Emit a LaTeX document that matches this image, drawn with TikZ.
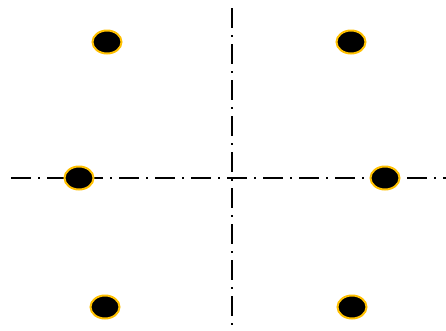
\documentclass[tikz,border=0pt]{standalone}
\usetikzlibrary{shapes.geometric}
\begin{document}
\begin{tikzpicture}[x=1pt,y=-1pt,
  axis/.style={line width=2.5pt,dash pattern=on 20pt off 7pt on 2pt off 7pt},
  dotmark/.style={ellipse,draw={rgb,255:red,255;green,192;blue,0},fill=black,line width=2pt,minimum width=29pt,minimum height=23pt,inner sep=0pt}]
\useasboundingbox (0,0) rectangle (446,330);
\coordinate (vt) at (232,8);
\coordinate (vb) at (232,330);
\coordinate (hl) at (11,178);
\coordinate (hr) at (446,178);
\draw[axis] (vt) -- (vb);
\draw[axis] (hl) -- (hr);
\node[dotmark] (a) at (107,42) {};
\node[dotmark] (b) at (351,42) {};
\node[dotmark] (c) at (79,178) {};
\node[dotmark] (d) at (385,178) {};
\node[dotmark] (e) at (105,307) {};
\node[dotmark] (f) at (352,307) {};
\end{tikzpicture}
\end{document}
